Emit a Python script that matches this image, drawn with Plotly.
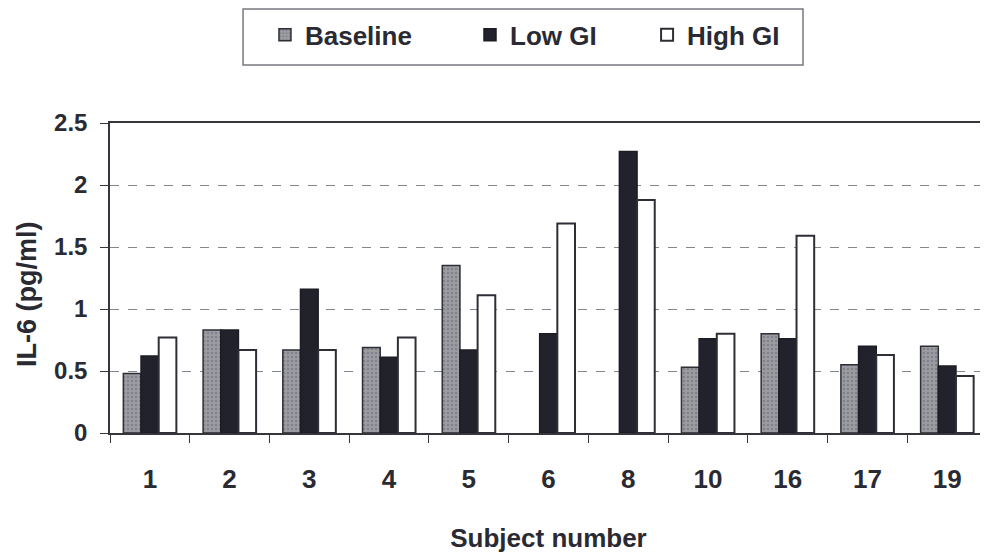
import plotly.graph_objects as go

subjects = ["1", "2", "3", "4", "5", "6", "8", "10", "16", "17", "19"]
baseline = [0.48, 0.83, 0.67, 0.69, 1.35, None, None, 0.53, 0.80, 0.55, 0.70]
low_gi = [0.62, 0.83, 1.16, 0.61, 0.67, 0.80, 2.27, 0.76, 0.76, 0.70, 0.54]
high_gi = [0.77, 0.67, 0.67, 0.77, 1.11, 1.69, 1.88, 0.80, 1.59, 0.63, 0.46]

FAM = "Liberation Sans, Arial, sans-serif"
TXT = "#2a2a33"
LINE = "#35353e"

fig = go.Figure()
fig.add_trace(go.Bar(name="<b>Baseline</b>", x=subjects, y=baseline, legend="legend",
                     marker=dict(color="#8a8a92", line=dict(color="#2e2e36", width=1.5),
                                 pattern=dict(shape=".", fgcolor="#66666e", bgcolor="#9c9ca3",
                                              size=4, solidity=0.3))))
fig.add_trace(go.Bar(name="<b>Low GI</b>", x=subjects, y=low_gi, legend="legend2",
                     marker=dict(color="#22222c", line=dict(color="#1c1c24", width=1.5))))
fig.add_trace(go.Bar(name="<b>High GI</b>", x=subjects, y=high_gi, legend="legend3",
                     marker=dict(color="#ffffff", line=dict(color="#2e2e36", width=2))))

leg_common = dict(orientation="h", yanchor="middle", y=1.284, xanchor="left",
                  bgcolor="rgba(0,0,0,0)", borderwidth=0,
                  font=dict(size=26, family=FAM, color=TXT))

fig.update_layout(
    width=980, height=550,
    margin=dict(l=102, r=1, t=115, b=125, autoexpand=False),
    paper_bgcolor="white", plot_bgcolor="white",
    barmode="group", bargap=0.335, bargroupgap=0,
    font=dict(family=FAM, color=TXT),
    legend=dict(x=0.1767, **leg_common),
    legend2=dict(x=0.4105, **leg_common),
    legend3=dict(x=0.6124, **leg_common),
    shapes=[dict(type="rect", xref="paper", yref="paper",
                 x0=0.1517, x1=0.7902, y0=1.1871, y1=1.3677,
                 line=dict(color="#77777f", width=1.5), fillcolor="rgba(0,0,0,0)", layer="below")],
    annotations=[dict(text="<b>IL-6 (pg/ml)</b>", xref="paper", yref="paper",
                      x=-0.0946, y=0.445, textangle=-90, showarrow=False,
                      xanchor="center", yanchor="middle",
                      font=dict(size=27, family=FAM, color=TXT))],
    showlegend=True,
)
fig.update_xaxes(
    type="category", automargin=False,
    showline=True, linecolor=LINE, linewidth=1.5, mirror=True,
    ticks="outside", tickson="boundaries", ticklen=8, tickcolor=LINE,
    tickfont=dict(size=26, family=FAM, color=TXT),
    ticklabelstandoff=22,
    tickprefix="<b>", ticksuffix="</b>",
    title=dict(text="<b>Subject number</b>", font=dict(size=26, family=FAM, color=TXT), standoff=36),
)
fig.update_yaxes(
    range=[0, 2.5], dtick=0.5, automargin=False,
    showline=True, linecolor=LINE, linewidth=1.5, mirror=True,
    ticks="outside", ticklen=8, tickcolor=LINE,
    showgrid=True, gridcolor="#85858d", griddash="dash", gridwidth=1,
    zeroline=False,
    tickfont=dict(size=24, family=FAM, color=TXT), tickprefix="<b>", ticksuffix="</b>",
    ticklabelstandoff=8,
)

fig.write_html("out.html")
